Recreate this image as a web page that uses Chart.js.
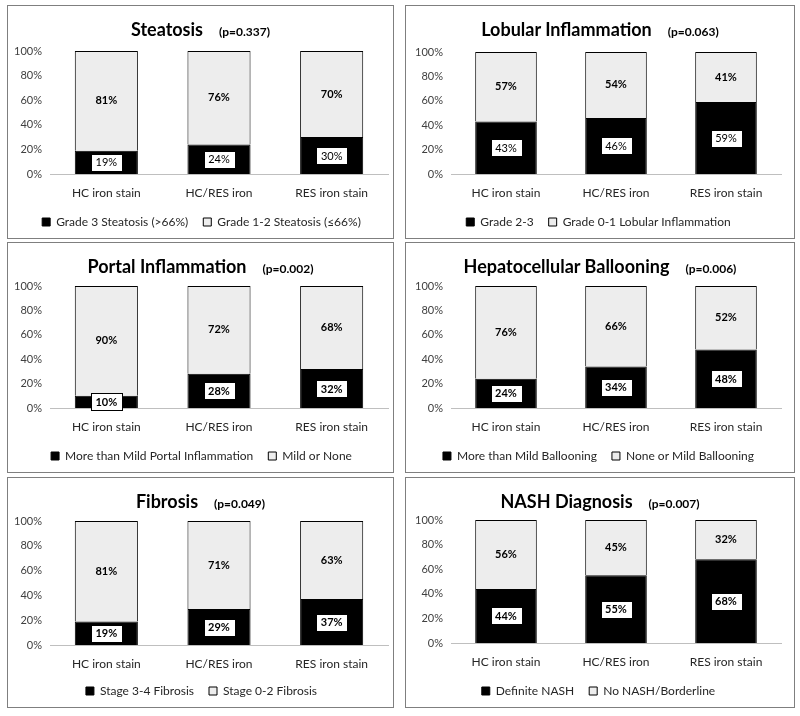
<!DOCTYPE html>
<html>
<head>
<meta charset="utf-8">
<script src="https://cdn.jsdelivr.net/npm/chart.js@4.4.1/dist/chart.umd.min.js"></script>
<style>
  body { margin: 0; background: #fff; width: 800px; height: 716px; position: relative; font-family: Lato, sans-serif; }
  .panel { position: absolute; border: 1px solid #7f7f7f; box-sizing: border-box; background: #fff; }
  .panel h3 { position: absolute; left: 0; right: 0; top: 12px; margin: 0; text-align: center;
              font: bold 18px/22px Lato, sans-serif; color: #000; z-index: 2; }
  .panel h3 span { font-size: 12px; margin-left: 16px; }
  .panel canvas { position: absolute; left: 0; top: 0; }
</style>
</head>
<body>
<script>
// groups on the x axis
const categories = ["HC iron stain", "HC/RES iron", "RES iron stain"];

// each panel: lower (black) series and upper (light grey) series, in %
const steatosisLow  = [19, 24, 30];
const steatosisHigh = [81, 76, 70];
const lobularLow    = [43, 46, 59];
const lobularHigh   = [57, 54, 41];
const portalLow     = [10, 28, 32];
const portalHigh    = [90, 72, 68];
const balloonLow    = [24, 34, 48];
const balloonHigh   = [76, 66, 52];
const fibrosisLow   = [19, 29, 37];
const fibrosisHigh  = [81, 71, 63];
const nashLow       = [44, 55, 68];
const nashHigh      = [56, 45, 32];

const yTicks = [0, 20, 40, 60, 80, 100];

// box = [left, top, width, height]; pad = [top, left, right]; xh = x axis box height
const panels = [
  { title: "Steatosis", p: "(p=0.337)", low: steatosisLow, high: steatosisHigh,
    lowLabel: "Grade 3 Steatosis (>66%)", highLabel: "Grade 1-2 Steatosis (\u226466%)",
    box: [7, 5, 387, 234], pad: [45, 7, 5], xh: 27, boldLow: false },
  { title: "Lobular Inflammation", p: "(p=0.063)", low: lobularLow, high: lobularHigh,
    lowLabel: "Grade 2-3", highLabel: "Grade 0-1 Lobular Inflammation",
    box: [405, 5, 390, 234], pad: [46, 10, 13], xh: 27, boldLow: false },
  { title: "Portal Inflammation", p: "(p=0.002)", low: portalLow, high: portalHigh,
    lowLabel: "More than Mild Portal Inflammation", highLabel: "Mild or None",
    box: [7, 242, 387, 231], pad: [43, 7, 5], xh: 27, boldLow: true },
  { title: "Hepatocellular Ballooning", p: "(p=0.006)", low: balloonLow, high: balloonHigh,
    lowLabel: "More than Mild Ballooning", highLabel: "None or Mild Ballooning",
    box: [405, 242, 390, 231], pad: [43, 10, 13], xh: 27, boldLow: true },
  { title: "Fibrosis", p: "(p=0.049)", low: fibrosisLow, high: fibrosisHigh,
    lowLabel: "Stage 3-4 Fibrosis", highLabel: "Stage 0-2 Fibrosis",
    box: [7, 477, 387, 231], pad: [43, 7, 5], xh: 25, boldLow: true },
  { title: "NASH Diagnosis", p: "(p=0.007)", low: nashLow, high: nashHigh,
    lowLabel: "Definite NASH", highLabel: "No NASH/Borderline",
    box: [405, 477, 390, 231], pad: [42, 10, 13], xh: 27, boldLow: true },
];

const FONT = "Lato, sans-serif";

// percent labels in the middle of each segment
const segmentLabels = {
  id: "segmentLabels",
  afterDatasetsDraw(chart, args, opts) {
    const ctx = chart.ctx;
    ctx.save();
    ctx.textAlign = "center";
    ctx.textBaseline = "middle";
    chart.data.datasets.forEach((ds, di) => {
      const meta = chart.getDatasetMeta(di);
      meta.data.forEach((bar, i) => {
        const txt = ds.data[i] + "%";
        const cy = (bar.y + bar.base) / 2;
        if (di === 0) {
          ctx.font = (opts.boldLow ? "bold " : "") + "11px " + FONT;
          const w = Math.round(ctx.measureText(txt).width + 9);
          const h = 17;
          const bx = Math.round(bar.x - w / 2) + 0.5;
          const by = Math.round(cy - h / 2) + 0.5;
          ctx.fillStyle = "#fff";
          ctx.fillRect(bx, by, w, h);
          ctx.strokeStyle = "#000";
          ctx.lineWidth = 1;
          ctx.strokeRect(bx, by, w, h);
          ctx.fillStyle = "#000";
          ctx.fillText(txt, bar.x, cy + 0.5);
        } else {
          ctx.font = "bold 11px " + FONT;
          ctx.fillStyle = "#000";
          ctx.fillText(txt, bar.x, cy);
        }
      });
    });
    ctx.restore();
  },
};

panels.forEach((pn) => {
  const div = document.createElement("div");
  div.className = "panel";
  const [x, y, w, h] = pn.box;
  div.style.left = x + "px";
  div.style.top = y + "px";
  div.style.width = w + "px";
  div.style.height = h + "px";
  const h3 = document.createElement("h3");
  h3.innerHTML = pn.title + "<span>" + pn.p + "</span>";
  div.appendChild(h3);
  const canvas = document.createElement("canvas");
  canvas.width = w - 2;
  canvas.height = h - 2;
  div.appendChild(canvas);
  document.body.appendChild(div);

  new Chart(canvas, {
    type: "bar",
    data: {
      labels: categories,
      datasets: [
        {
          label: pn.lowLabel,
          data: pn.low,
          backgroundColor: "#000",
          borderColor: "#000",
          borderWidth: 1,
        },
        {
          label: pn.highLabel,
          data: pn.high,
          backgroundColor: "#ededed",
          borderColor: "#000",
          borderWidth: 1,
        },
      ],
    },
    options: {
      responsive: false,
      animation: false,
      datasets: { bar: { categoryPercentage: 0.8, barPercentage: 0.7 } },
      layout: { padding: { top: pn.pad[0], left: pn.pad[1], right: pn.pad[2], bottom: 0 } },
      scales: {
        x: {
          stacked: true,
          afterFit: (s) => { s.height = pn.xh; },
          grid: { display: false, drawTicks: false },
          border: { color: "#bfbfbf", width: 1 },
          ticks: { font: { family: FONT, size: 12 }, color: "#262626", padding: 12 },
        },
        y: {
          stacked: true,
          min: 0,
          max: 100,
          afterBuildTicks: (s) => { s.ticks = yTicks.map((v) => ({ value: v })); },
          afterFit: (s) => { s.width = 35; },
          grid: { display: false, drawTicks: false },
          border: { display: false },
          ticks: {
            autoSkip: false,
            font: { family: FONT, size: 11 },
            color: "#404040",
            padding: 8,
            callback: (v) => v + "%",
          },
        },
      },
      plugins: {
        legend: {
          position: "bottom",
          labels: {
            boxWidth: 8,
            boxHeight: 8,
            padding: 15,
            font: { family: FONT, size: 12 },
            color: "#262626",
          },
        },
        tooltip: { enabled: false },
        segmentLabels: { boldLow: pn.boldLow },
      },
    },
    plugins: [segmentLabels],
  });
});
</script>
</body>
</html>
